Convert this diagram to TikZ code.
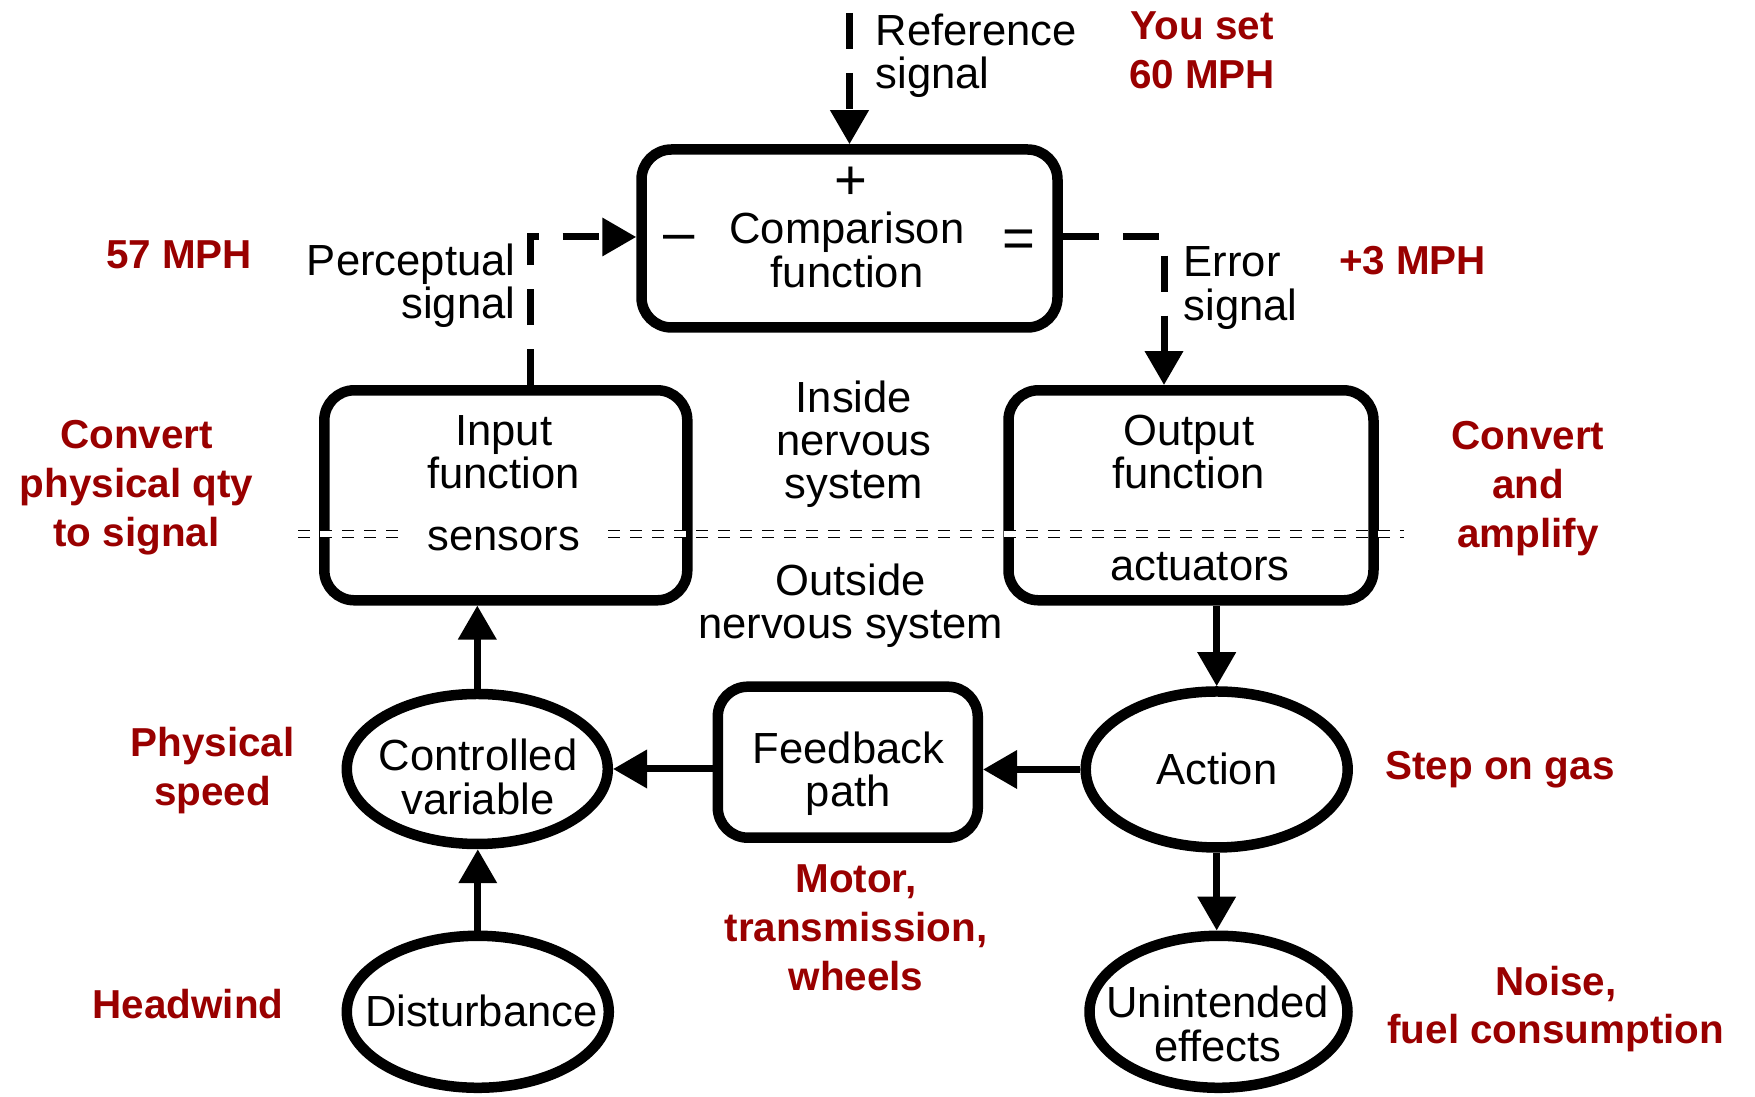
\documentclass[tikz,border=0pt]{standalone}
\usepackage{fontspec}
\setmainfont{Liberation Sans}
\usetikzlibrary{arrows.meta,shapes.geometric}
\definecolor{annot}{HTML}{990000}

\begin{document}
\begin{tikzpicture}[x=0.1mm,y=-0.1mm,
  box/.style={draw, line width=1.05mm, rounded corners=3mm, inner sep=0pt},
  oval/.style={draw, ellipse, line width=1.05mm, inner sep=0pt},
  txt/.style={font=\fontsize{12.4}{12.3}\selectfont, align=center, inner sep=0pt},
  sign/.style={font=\fontsize{16}{16}\selectfont, inner sep=0pt},
  note/.style={font=\fontsize{11.5}{13.9}\selectfont\bfseries, text=annot, align=center, inner sep=0pt},
  flow/.style={line width=0.7mm, -{Triangle[length=3.4mm,width=3.7mm]}},
  sig/.style={flow, dash pattern=on 3.6mm off 2.4mm},
  border/.style={double, double distance=0.52mm, line width=0.15mm, dash pattern=on 1.2mm off 1mm}
]
\useasboundingbox (0,0) rectangle (1755,1097);

% blocks
\node[box, minimum width=41.6mm, minimum height=17.8mm] (cmp) at (849.5,238.5) {};
\node[box, minimum width=36.3mm, minimum height=21mm] (inbox) at (505.8,495.3) {};
\node[box, minimum width=36.5mm, minimum height=21mm] (outbox) at (1191,495.3) {};
\node[box, minimum width=26mm, minimum height=15.1mm] (fb) at (847.8,762.2) {};
\node[oval, minimum width=26.2mm, minimum height=15.6mm] (act) at (1216.7,769.5) {};
\node[oval, minimum width=25.8mm, minimum height=15.2mm] (unint) at (1218.5,1011.8) {};
\node[oval, minimum width=26.1mm, minimum height=15mm] (cv) at (477.3,769) {};
\node[oval, minimum width=26.2mm, minimum height=15.2mm] (dist) at (477.8,1011.8) {};

% block texts
\node[txt] (cmptxt) at (847,250) {Comparison\\function};
\node[sign] (plus) at (850.7,183.5) {+};
\node[sign] (minus) at (679.4,243) {–};
\node[sign] (eq) at (1018.6,244) {=};
\node[txt] (intxt) at (503.7,452) {Input\\function};
\node[txt] (sens) at (503.7,538.5) {sensors};
\node[txt] (outtxt) at (1188.7,452) {Output\\function};
\node[txt] (actu) at (1200,567) {actuators};
\node[txt] (fbtxt) at (848.4,774) {Feedback\\path};
\node[txt] (acttxt) at (1216.7,769) {Action};
\node[txt] (unitxt) at (1217.8,1024) {Unintended\\effects};
\node[txt] (cvtxt) at (478,777) {Controlled\\variable};
\node[txt] (disttxt) at (481.3,1011) {Disturbance};

% signal labels
\node[txt, anchor=west, align=left] (reftxt) at (875,56) {Reference\\signal};
\node[txt, anchor=east, align=right] (perctxt) at (516,286) {Perceptual\\signal};
\node[txt, anchor=west, align=left] (errtxt) at (1183,288) {Error\\signal};
\node[txt] (inside) at (854,444.5) {Inside\\nervous\\system};
\node[txt] (outside) at (850.7,606) {Outside\\nervous system};

% annotations
\node[note] (youset) at (1202,50) {You set\\60 MPH};
\node[note] (perc57) at (179,255) {57 MPH};
\node[note] (err3) at (1412.6,260.5) {+3 MPH};
\node[note] (conv1) at (136.6,487.5) {Convert\\physical qty\\to signal};
\node[note] (conv2) at (1528,488.5) {Convert\\and\\amplify};
\node[note] (gas) at (1500,770) {Step on gas};
\node[note] (noise) at (1555.8,1009) {Noise,\\fuel consumption};
\node[note] (motor) at (856,928) {Motor,\\transmission,\\wheels};
\node[note] (speed) at (212.7,770.5) {Physical\\speed};
\node[note] (wind) at (188,1004) {Headwind};

% nervous-system boundary
\coordinate (bl1) at (298,534);
\coordinate (bl2) at (398,534);
\coordinate (br1) at (608,534);
\coordinate (br2) at (1404,534);
\draw[border] (bl1) -- (bl2);
\draw[border] (br1) -- (br2);

% signal paths
\coordinate (refstart) at (849.5,13);
\coordinate (pc) at (530.6,237);
\coordinate (ec) at (1164,237);
\draw[sig] (refstart) -- (cmp.north);
\draw[sig] (inbox.north -| pc) -- (pc) -- (cmp.west |- pc);
\draw[sig] (cmp.east |- ec) -- (ec) -- (outbox.north -| ec);

% physical paths
\draw[flow] (outbox.south -| act.north) -- (act.north);
\draw[flow] (act.south) -- (unint.north -| act.south);
\draw[flow] (act.west) -- (fb.east |- act.west);
\draw[flow] (fb.west |- cv.east) -- (cv.east);
\draw[flow] (cv.north) -- (inbox.south -| cv.north);
\draw[flow] (dist.north) -- (cv.south -| dist.north);
\end{tikzpicture}
\end{document}
